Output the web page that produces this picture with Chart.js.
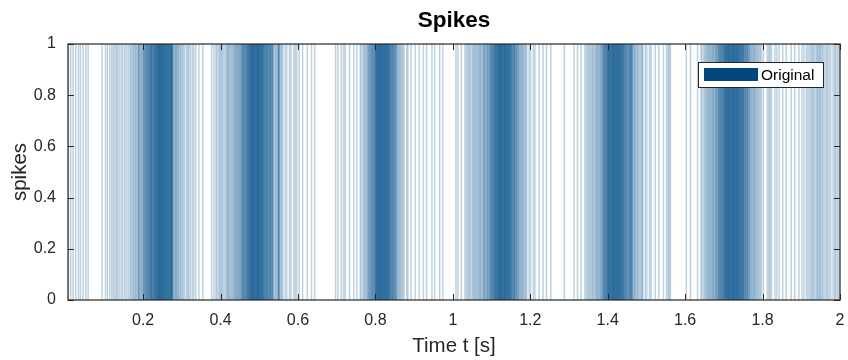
<!DOCTYPE html>
<html><head><meta charset="utf-8">
<script src="https://cdn.jsdelivr.net/npm/chart.js@4.4.1/dist/chart.umd.min.js"></script>
<style>html,body{margin:0;padding:0;background:#fff;}#wrap{width:848px;height:360px;}</style>
</head><body><div id="wrap"><canvas id="c" width="848" height="360"></canvas></div>
<script>
const chartTitle = 'Spikes';
const xAxisLabel = 'Time t [s]';
const yAxisLabel = 'spikes';
const seriesLabel = 'Original';
const xTicks = [0.2, 0.4, 0.6, 0.8, 1, 1.2, 1.4, 1.6, 1.8, 2];
const yTicks = [0, 0.2, 0.4, 0.6, 0.8, 1];
const xRange = [0.006, 2];
const yRange = [0, 1];
const spikeHeight = 1;
// spike times in milliseconds
const spikeTimesMs = [
7,13,19,26,33,38,45,52,58,94,
103,108,114,119,123,127,131,134,138,143,147,152,156,161,165,168,
171,174,176,179,181,183,186,188,189,190,192,194,196,198,
200,201,203,205,206,208,209,210,211,213,214,216,217,218,219,
202.5,207.5,212.5,215.5,219.5,222.5,225.5,228.5,231.5,233.5,
220,221,222,223,224,226,227,228,229,230,231,232,233,234,235,236,237,238,239,239,
240,241,242,243,244,244,245,246,247,248,249,249,250,251,252,253,253,254,255,256,257,258,259,
260,261,262,263,264,265,266,267,268,269,270,271,272,273,274,274,275,277,278,
235.5,237.5,240.5,242.5,243.5,246.5,247.5,250.5,252.5,254.5,257.5,259.5,261.5,263.5,266.5,268.5,271.5,273.5,274.5,
280,282,284,285,287,289,291,293,296,298,301,304,307,312,315,318,322,327,331,336,344,354,
377,383,388,391,395,398,401,404,407,411,414,417,419,421,423,426,428,
431,433,435,437,439,440,442,444,445,447,449,450,452,453,455,456,458,459,
456.5,461.5,465.5,469.5,472.5,
460,461,463,464,465,467,468,469,470,471,472,473,474,475,476,477,478,479,
480,481,482,482,483,484,485,486,487,488,489,490,491,492,493,494,495,496,496,497,498,499,
500,501,502,503,504,505,506,507,508,509,510,511,512,513,514,516,517,518,519,
475.5,477.5,479.5,481.5,483.5,485.5,487.5,489.5,491.5,493.5,495.5,497.5,499.5,501.5,503.5,505.5,507.5,510.5,513.5,517.5,
520,521,523,524,525,527,528,529,530,532,533,535,536,538,541,543,545,548,549,
521.5,525.5,529.5,533.5,
550,551,551,553,556,558,561,567,571,578,582,589,593,597,
603,612,624,635,643,697,703,712,718,722,733,744,752,
761,764,768,771,773,776,778,780,782,784,786,788,790,791,793,794,796,797,799,
783.5,787.5,791.5,795.5,
800,801,802,803,804,805,806,807,808,809,810,811,812,813,813,814,815,816,817,818,819,
820,821,822,823,824,825,825,826,827,828,829,830,831,832,833,834,835,836,837,838,839,
799.5,801.5,803.5,805.5,807.5,809.5,811.5,813.5,815.5,817.5,819.5,821.5,823.5,826.5,828.5,830.5,832.5,834.5,837.5,
840,841,843,844,845,846,848,849,850,852,853,855,856,858,861,863,865,868,
842.5,846.5,851.5,
871,874,881,884,892,903,913,924,932,946,953,966,974,
1008,1013,1022,1031,1035,1038,1041,1044,1047,1051,1053,1056,1058,
1061,1063,1066,1068,1070,1072,1074,1077,1079,1080,1082,1083,1085,1087,1089,
1090,1091,1093,1094,1096,1097,1099,1100,1101,1102,1104,1105,1106,1107,1108,1109,
1097.5,1101.5,1105.5,1109.5,1112.5,
1110,1111,1112,1113,1114,1115,1116,1117,1118,1119,1120,1121,1122,1122,1123,1124,1125,1126,1127,1128,1129,
1130,1131,1132,1133,1134,1135,1135,1136,1137,1138,1139,1140,1141,1142,1143,1144,1145,1146,1147,1148,1149,
1115.5,1117.5,1119.5,1121.5,1123.5,1125.5,1127.5,1129.5,1131.5,1133.5,1135.5,1137.5,1139.5,1141.5,1143.5,1145.5,1147.5,1150.5,1152.5,1156.5,
1150,1151,1153,1154,1155,1157,1158,1159,1160,1162,1164,1165,1167,1169,1171,1173,1175,1177,1179,
1159.5,1163.5,1168.5,
1181,1183,1186,1188,1191,1197,1201,1208,1212,1223,1233,1242,1253,1288,
1313,1322,1331,1341,1345,1348,1351,1354,1357,1360,1362,1365,1368,
1370,1372,1374,1376,1378,1380,1382,1383,1385,1387,1389,1390,1391,1393,1394,1395,1397,1398,1399,
1386.5,1390.5,1393.5,1396.5,
1400,1401,1402,1403,1404,1405,1406,1407,1408,1409,1410,1411,1412,1413,1414,1415,1415,1416,1417,1418,1419,
1420,1421,1422,1423,1424,1424,1425,1426,1427,1428,1429,1430,1431,1432,1433,1434,1435,1436,1437,1438,1439,
1399.5,1401.5,1403.5,1405.5,1407.5,1409.5,1411.5,1413.5,1416.5,1418.5,1420.5,1422.5,1425.5,1427.5,1429.5,1431.5,1433.5,1436.5,1439.5,
1440,1441,1443,1444,1445,1446,1448,1449,1450,1452,1453,1455,1456,1458,1459,
1441.5,1445.5,1449.5,1454.5,1458.5,1462.5,
1460,1460,1462,1463,1465,1467,1469,1471,1473,1476,1478,1481,1484,1487,1489,1491,1497,
1501,1508,1512,1523,1532,1544,1552,1556,1559,1562,
1603,1614,1632,1641,1644,1648,1651,1653,1656,1658,1660,1662,1664,1666,1668,
1670,1672,1673,1675,1677,1679,1680,1681,1683,1684,1686,1687,1689,1690,1691,1692,1694,1695,1696,1697,1699,
1686.5,1690.5,1694.5,1697.5,
1700,1701,1702,1703,1704,1705,1706,1707,1708,1709,1710,1711,1712,1713,1714,1714,1715,1716,1717,1718,1719,
1720,1721,1722,1723,1724,1725,1725,1726,1727,1728,1729,1730,1731,1732,1733,1733,1734,1735,1736,1737,1738,1739,
1701.5,1703.5,1705.5,1707.5,1709.5,1711.5,1713.5,1716.5,1718.5,1720.5,1722.5,1724.5,1726.5,1728.5,1730.5,1732.5,1735.5,1737.5,1739.5,1742.5,1745.5,1748.5,
1740,1741,1742,1743,1744,1745,1746,1747,1748,1749,1750,1751,1752,1754,1755,1756,1758,1759,
1751.5,1755.5,1760.5,1765.5,
1760,1762,1763,1765,1767,1769,1771,1773,1775,1777,1779,1781,1783,1786,1788,1791,1794,1797,
1802,1812,1816,1819,1823,1832,1837,1843,1852,1861,1874,1883,1894,
1902,1907,1913,1917,1921,1925,1928,1931,1934,1938,1941,1943,1946,1948,1951,1954,1957,
1961,1965,1968,1972,1976,1982,1986,1989,1993,1997
];

const FONT = '"Liberation Sans", Arial, Helvetica, sans-serif';
const AXIS_COLOR = '#262626';
const SPIKE_RGB = '0,80,138';
const LEGEND_RGB = '3,72,124';

const frameAndLegend = {
  id: 'frameAndLegend',
  afterDraw(chart) {
    const {ctx, chartArea: a, scales: {x, y}} = chart;
    ctx.save();
    ctx.strokeStyle = AXIS_COLOR;
    ctx.lineWidth = 1.2;
    ctx.strokeRect(a.left, a.top, a.right - a.left, a.bottom - a.top);
    ctx.lineWidth = 1;
    const tl = 6;
    ctx.beginPath();
    xTicks.forEach(v => {
      const px = Math.round(x.getPixelForValue(v)) + 0.5;
      ctx.moveTo(px, a.bottom); ctx.lineTo(px, a.bottom - tl);
      ctx.moveTo(px, a.top); ctx.lineTo(px, a.top + tl);
    });
    yTicks.forEach(v => {
      const py = Math.round(y.getPixelForValue(v)) + 0.5;
      ctx.moveTo(a.left, py); ctx.lineTo(a.left + tl, py);
      ctx.moveTo(a.right, py); ctx.lineTo(a.right - tl, py);
    });
    ctx.stroke();
    // legend
    const bx = a.right - 142, by = a.top + 18, bw = 125, bh = 25;
    ctx.fillStyle = '#ffffff';
    ctx.fillRect(bx, by, bw, bh);
    ctx.strokeStyle = AXIS_COLOR;
    ctx.lineWidth = 1;
    ctx.strokeRect(bx + 0.5, by + 0.5, bw, bh);
    ctx.fillStyle = 'rgb(' + LEGEND_RGB + ')';
    ctx.fillRect(bx + 6, by + 6, 54, 13);
    ctx.fillStyle = '#000000';
    ctx.font = '15.5px ' + FONT;
    ctx.textBaseline = 'middle';
    ctx.textAlign = 'left';
    ctx.fillText(chart.data.datasets[0].label, bx + 63, by + bh / 2 + 1);
    ctx.restore();
  }
};

new Chart(document.getElementById('c'), {
  type: 'bar',
  data: {
    datasets: [{
      label: seriesLabel,
      data: spikeTimesMs.map(ms => ({x: ms / 1000, y: spikeHeight})),
      backgroundColor: 'rgba(' + SPIKE_RGB + ',0.26)',
      borderWidth: 0,
      barThickness: 1.5,
      inflateAmount: 0,
      grouped: false
    }]
  },
  options: {
    responsive: false,
    animation: false,
    devicePixelRatio: 1,
    layout: {padding: {left: 0, right: 8, top: 0, bottom: 0}},
    plugins: {
      legend: {display: false},
      tooltip: {enabled: false},
      title: {
        display: true, text: chartTitle, fullSize: false, color: '#000',
        font: {family: FONT, size: 22.5, weight: 'bold'},
        padding: {top: 7, bottom: 10}
      }
    },
    scales: {
      x: {
        type: 'linear', min: xRange[0], max: xRange[1], offset: false,
        grid: {display: false, drawTicks: false}, border: {display: false},
        afterBuildTicks: s => { s.ticks = xTicks.map(v => ({value: v})); },
        afterFit: s => { s.height = 60; s.paddingRight = 8; s.paddingLeft = 0; },
        ticks: {font: {family: FONT, size: 16}, color: AXIS_COLOR, padding: 11, maxRotation: 0, autoSkip: false,
          callback: v => String(v)},
        title: {display: true, text: xAxisLabel, color: AXIS_COLOR, font: {family: FONT, size: 20.5}, padding: {top: 0, bottom: 1.7}}
      },
      y: {
        min: yRange[0], max: yRange[1],
        grid: {display: false, drawTicks: false}, border: {display: false},
        afterBuildTicks: s => { s.ticks = yTicks.map(v => ({value: v})); },
        afterFit: s => { s.width = 68; },
        ticks: {font: {family: FONT, size: 16}, color: AXIS_COLOR, padding: 12, autoSkip: false,
          callback: v => String(v)},
        title: {display: true, text: yAxisLabel, color: AXIS_COLOR, font: {family: FONT, size: 20.5}, padding: {top: 7.7, bottom: 0}}
      }
    }
  },
  plugins: [frameAndLegend]
});
</script></body></html>
